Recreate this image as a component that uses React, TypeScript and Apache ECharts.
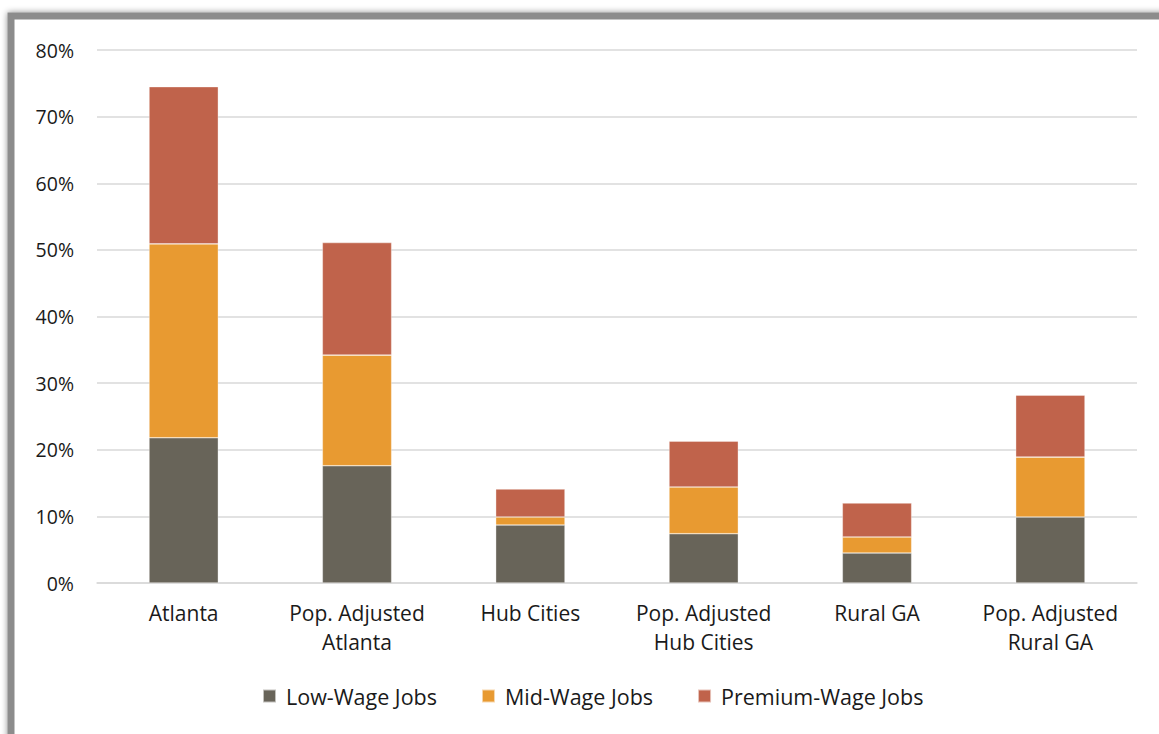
import React, { useEffect, useRef } from "react";
import * as echarts from "echarts";

const categories = [
  "Atlanta",
  "Pop. Adjusted\nAtlanta",
  "Hub Cities",
  "Pop. Adjusted\nHub Cities",
  "Rural GA",
  "Pop. Adjusted\nRural GA",
];
const lowWage = [21.8, 17.6, 8.7, 7.4, 4.5, 9.9];
const midWage = [29.1, 16.6, 1.2, 7.0, 2.4, 9.0];
const premiumWage = [23.6, 16.9, 4.2, 6.9, 5.1, 9.3];
const yTicks = [0, 10, 20, 30, 40, 50, 60, 70, 80];

const FONT = "Open Sans";

export default function App() {
  const ref = useRef<HTMLDivElement>(null);
  useEffect(() => {
    if (!ref.current) return;
    const chart = echarts.init(ref.current, null, { renderer: "svg" });
    const barStyle = (color: string) => ({
      color,
      borderColor: "rgba(255,255,255,0.6)",
      borderWidth: 0.6,
    });
    chart.setOption({
      animation: false,
      backgroundColor: "#ffffff",
      graphic: [
        {
          type: "rect",
          z: -10,
          silent: true,
          shape: { x: 11, y: 16, width: 1300, height: 900 },
          style: {
            fill: "#ffffff",
            stroke: "#8c8c8c",
            lineWidth: 7,
            shadowBlur: 6,
            shadowColor: "rgba(0,0,0,0.45)",
            shadowOffsetX: 0,
            shadowOffsetY: 0,
          },
        },
      ],
      grid: { left: 97, right: 22, top: 50, bottom: 151, containLabel: false },
      xAxis: {
        type: "category",
        data: categories,
        axisLine: { lineStyle: { color: "#d9d9d9", width: 1.5 } },
        axisTick: { show: false },
        axisLabel: {
          color: "#1a1a1a",
          fontFamily: FONT,
          fontSize: 21,
          lineHeight: 29,
          margin: 15,
          interval: 0,
        },
      },
      yAxis: {
        type: "value",
        min: yTicks[0],
        max: yTicks[yTicks.length - 1],
        interval: 10,
        axisLine: { show: false },
        axisTick: { show: false },
        splitLine: { lineStyle: { color: "#d9d9d9", width: 1.5 } },
        axisLabel: {
          color: "#1a1a1a",
          fontFamily: FONT,
          fontSize: 19.5,
          margin: 23,
          formatter: (v: number) => `${v}%`,
        },
      },
      legend: {
        bottom: 22,
        left: 257,
        itemWidth: 13,
        itemHeight: 13,
        itemGap: 44,
        icon: "rect",
        textStyle: {
          color: "#1a1a1a",
          fontFamily: FONT,
          fontSize: 21.5,
          padding: [0, 0, 0, 5],
        },
        data: ["Low-Wage Jobs", "Mid-Wage Jobs", "Premium-Wage Jobs"],
      },
      series: [
        {
          name: "Low-Wage Jobs",
          type: "bar",
          stack: "total",
          barWidth: "40%",
          data: lowWage,
          itemStyle: barStyle("#686459"),
        },
        {
          name: "Mid-Wage Jobs",
          type: "bar",
          stack: "total",
          data: midWage,
          itemStyle: barStyle("#e89a31"),
        },
        {
          name: "Premium-Wage Jobs",
          type: "bar",
          stack: "total",
          data: premiumWage,
          itemStyle: barStyle("#c0634b"),
        },
      ],
    });
    return () => chart.dispose();
  }, []);
  return (
    <div
      ref={ref}
      style={{ position: "fixed", left: 0, top: 0, width: 1159, height: 734 }}
    />
  );
}
